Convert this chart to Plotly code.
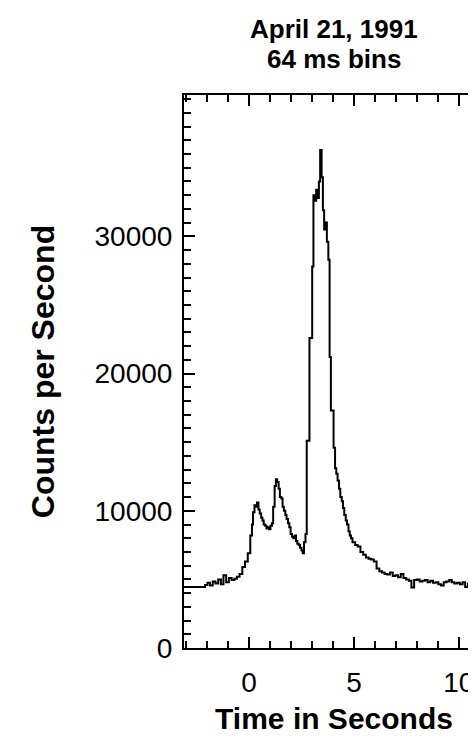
import plotly.graph_objects as go

# burst light curve, 64 ms bins
time_s = [-3.30, -2.10, -1.98, -1.86, -1.73, -1.60, -1.47, -1.34, -1.22, -1.09,
          -0.96, -0.83, -0.70, -0.58, -0.45, -0.32, -0.19, -0.06, 0.06, 0.14,
          0.19, 0.26, 0.32, 0.38, 0.45, 0.51, 0.58, 0.64, 0.70, 0.77,
          0.83, 0.90, 0.96, 1.02, 1.09, 1.15, 1.22, 1.28, 1.34, 1.41,
          1.47, 1.54, 1.60, 1.66, 1.73, 1.79, 1.86, 1.92, 1.98, 2.05,
          2.11, 2.18, 2.24, 2.30, 2.37, 2.43, 2.50, 2.56, 2.62, 2.69,
          2.75, 2.82, 2.88, 2.94, 3.01, 3.07, 3.14, 3.20, 3.26, 3.33,
          3.39, 3.46, 3.52, 3.58, 3.65, 3.71, 3.78, 3.84, 3.90, 3.97,
          4.03, 4.10, 4.16, 4.22, 4.29, 4.35, 4.42, 4.48, 4.54, 4.61,
          4.67, 4.74, 4.80, 4.86, 4.93, 5.06, 5.18, 5.31, 5.44, 5.57,
          5.70, 5.82, 5.95, 6.08, 6.21, 6.34, 6.46, 6.59, 6.72, 6.85,
          6.98, 7.10, 7.23, 7.36, 7.49, 7.62, 7.74, 7.87, 8.00, 8.13,
          8.26, 8.38, 8.51, 8.64, 8.77, 8.90, 9.02, 9.15, 9.28, 9.41,
          9.54, 9.66, 9.79, 9.92, 10.05, 10.18, 10.30, 10.43, 10.56, 10.69,
          10.82, 10.94, 11.07, 11.20]
counts = [4450, 4600, 4750, 4550, 4850, 4700, 5000, 4650, 5300, 4800,
          5100, 4950, 5050, 5200, 5400, 5900, 6300, 6900, 8200, 9000,
          9900, 10400, 10300, 10600, 10100, 9800, 9500, 9300, 9000, 8900,
          8700, 8800, 8650, 8900, 9100, 10300, 11800, 12300, 12100, 11600,
          11000, 10900, 10300, 10000, 9700, 9400, 9100, 8800, 8300, 8100,
          8000, 8200, 7800, 7600, 7500, 7300, 7100, 6900, 7700, 8300,
          15100, 15100, 22600, 22600, 27800, 33000, 32600, 33400, 32800, 34000,
          36300, 34300, 31900, 30500, 31000, 29600, 28300, 21200, 17300, 17300,
          14600, 13100, 12700, 12200, 11600, 11000, 10700, 10200, 9700, 9300,
          9000, 8500, 8200, 8000, 7700, 7500, 7400, 7000, 6800, 6600,
          6500, 6450, 6300, 5800, 5600, 5500, 5400, 5350, 5500, 5250,
          5300, 5150, 5400, 5100, 5000, 4900, 4400, 4950, 5000, 4850,
          4900, 4950, 4800, 4900, 4750, 4800, 4650, 4550, 4800, 4850,
          4950, 4800, 4700, 4750, 4650, 4800, 4450, 4700, 4650, 4800,
          4750, 4850, 4900, 4850]

x_ticks = [0, 5, 10]
y_ticks = [0, 10000, 20000, 30000]

fnt = "Liberation Sans, Arial, sans-serif"

fig = go.Figure()
fig.add_trace(go.Scatter(x=time_s, y=counts, mode="lines", line_shape="hv",
                         line=dict(color="black", width=2)))

fig.update_xaxes(range=[-3.1, 11.2], tickvals=x_ticks, ticks="inside", ticklen=11,
                 tickwidth=2, tickcolor="black", showline=True, linecolor="black",
                 linewidth=2, mirror="ticks", showgrid=False, zeroline=False,
                 minor=dict(ticks="inside", dtick=1, ticklen=7, tickwidth=2,
                            tickcolor="black", showgrid=False),
                 tickfont=dict(size=28, color="black", family=fnt),
                 ticklabelstandoff=8,
                 title=dict(text="<b>Time in Seconds</b>", standoff=11,
                            font=dict(size=30, color="black", family=fnt)))
fig.update_yaxes(range=[0, 40300], tickvals=y_ticks, tickformat="d", ticks="inside",
                 ticklen=11, tickwidth=2, tickcolor="black", showline=True,
                 linecolor="black", linewidth=2, showgrid=False, zeroline=False,
                 minor=dict(ticks="inside", dtick=1000, ticklen=7, tickwidth=2,
                            tickcolor="black", showgrid=False),
                 tickfont=dict(size=28, color="black", family=fnt),
                 ticklabelstandoff=4,
                 title=dict(text="<b>Counts per Second</b>", standoff=30,
                            font=dict(size=32, color="black", family=fnt)))

fig.add_annotation(text="<b>April 21, 1991</b>", x=0.5, y=1, xref="paper", yref="paper",
                   yanchor="middle", yshift=66, showarrow=False,
                   font=dict(size=26, color="black", family=fnt))
fig.add_annotation(text="<b>64 ms bins</b>", x=0.5, y=1, xref="paper", yref="paper",
                   yanchor="middle", yshift=36, showarrow=False,
                   font=dict(size=26, color="black", family=fnt))

fig.update_layout(width=476, height=738, showlegend=False,
                  margin=dict(l=176, r=0, t=87, b=98),
                  paper_bgcolor="white", plot_bgcolor="white")

fig.write_html("out.html")
